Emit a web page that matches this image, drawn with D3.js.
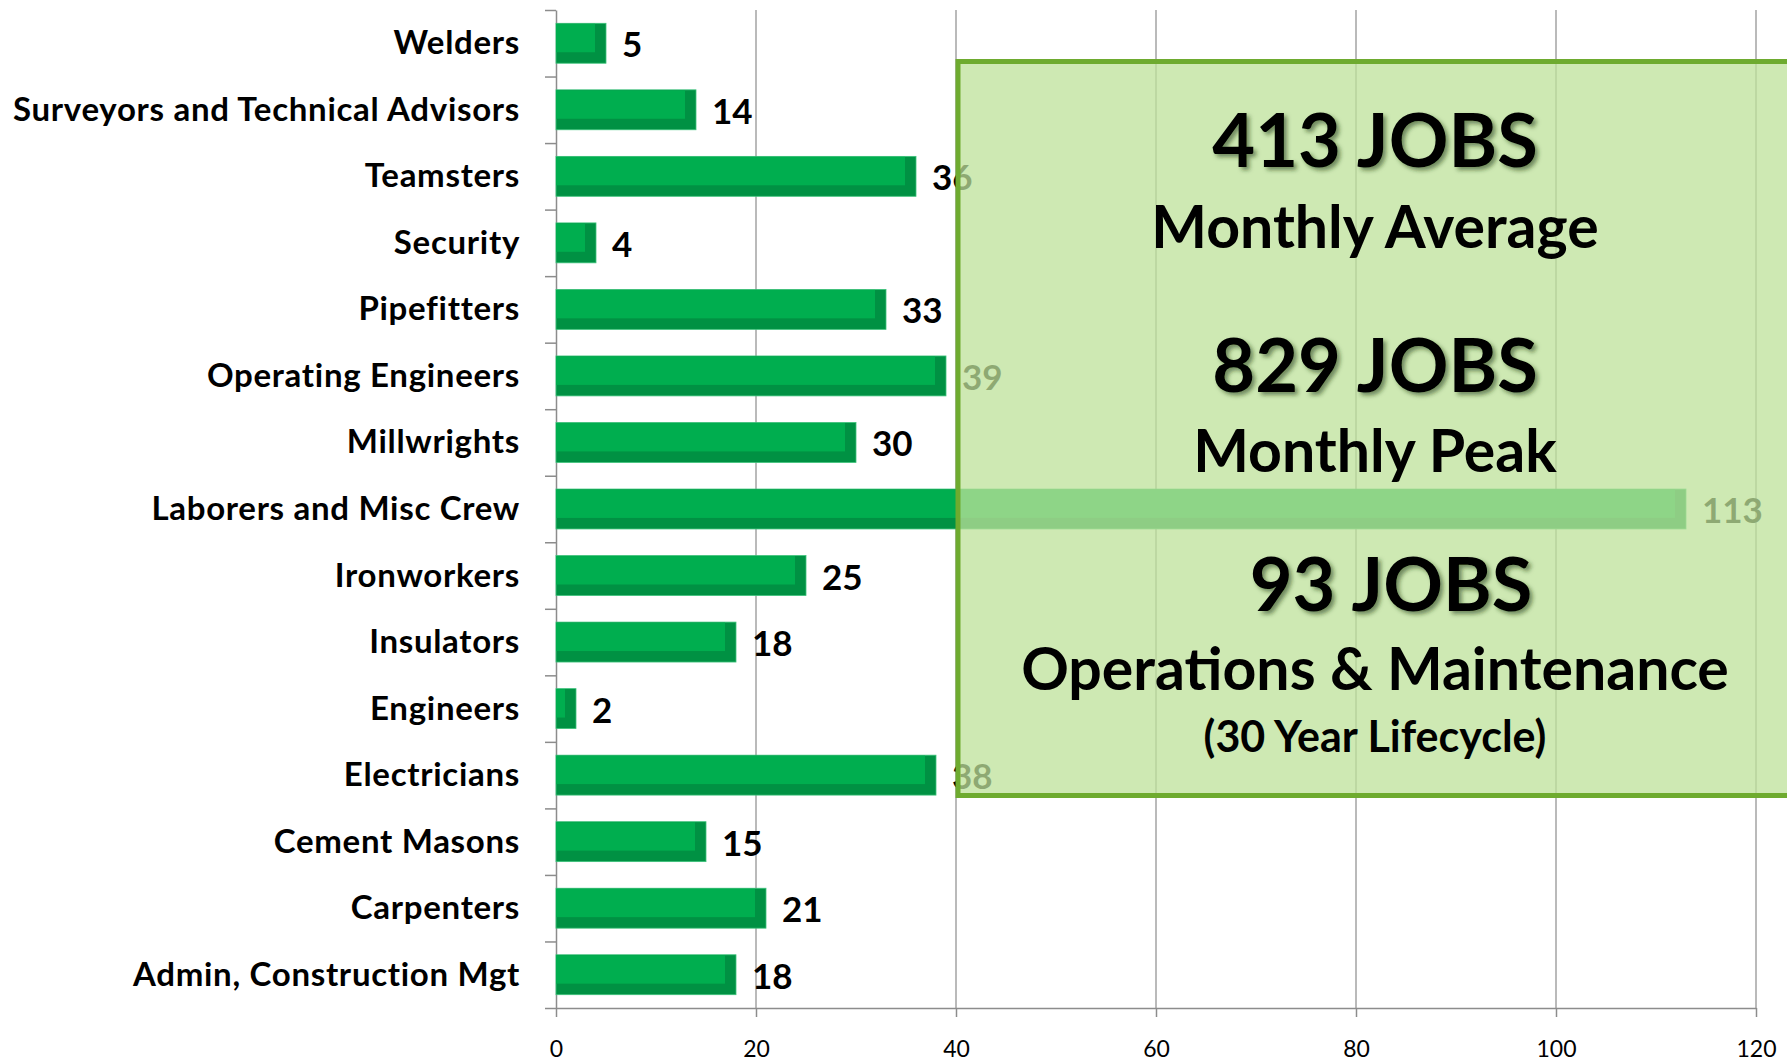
<!DOCTYPE html>
<meta charset="utf-8">
<html>
<head>
    <title>Construction Jobs by Trade</title>
    <style>
        body { margin: 0; background: #fff; }
        svg { display: block; }
        svg text { font-family: Lato, "Open Sans", sans-serif; }
    </style>
    <script src="https://d3js.org/d3.v7.min.js"></script>
</head>
<body>
<div id="chart-container"></div>
<script>
    // trades, top to bottom
    const categories = [
        "Welders", "Surveyors and Technical Advisors", "Teamsters", "Security",
        "Pipefitters", "Operating Engineers", "Millwrights", "Laborers and Misc Crew",
        "Ironworkers", "Insulators", "Engineers", "Electricians", "Cement Masons",
        "Carpenters", "Admin, Construction Mgt"
    ];
    const values = [5, 14, 36, 4, 33, 39, 30, 113, 25, 18, 2, 38, 15, 21, 18];
    const tickValues = [0, 20, 40, 60, 80, 100, 120];

    // call-out box text
    const boxLines = [
        "413 JOBS", "Monthly Average",
        "829 JOBS", "Monthly Peak",
        "93 JOBS", "Operations & Maintenance", "(30 Year Lifecycle)"
    ];

    var width = 1787, height = 1061;
    var plotLeft = 556, plotRight = 1756, plotTop = 10, plotBottom = 1008;

    var svg = d3.select("#chart-container")
        .append("svg")
        .attr("width", width)
        .attr("height", height);

    var defs = svg.append("defs");
    var shadow = defs.append("filter").attr("id", "shadow")
        .attr("x", "-10%").attr("y", "-20%").attr("width", "130%").attr("height", "150%");
    shadow.append("feDropShadow")
        .attr("dx", 3).attr("dy", 3).attr("stdDeviation", 2)
        .attr("flood-color", "#1f3a10").attr("flood-opacity", 0.55);

    var x = d3.scaleLinear()
        .domain([0, 120])
        .range([plotLeft, plotRight]);

    var y = d3.scaleBand()
        .domain(categories)
        .range([plotTop, plotBottom])
        .paddingInner(0.4)
        .paddingOuter(0.2);

    // slot boundaries for the category ticks
    var ySlots = d3.scaleLinear()
        .domain([0, categories.length])
        .range([plotTop, plotBottom]);

    // vertical gridlines
    svg.append("g")
        .selectAll("line")
        .data(tickValues.slice(1))
        .enter().append("line")
        .attr("x1", d => x(d)).attr("x2", d => x(d))
        .attr("y1", plotTop).attr("y2", plotBottom)
        .attr("stroke", "#a3a3a3")
        .attr("stroke-width", 1.5);

    // x axis
    var xAxis = svg.append("g")
        .attr("transform", "translate(0," + plotBottom + ")")
        .call(d3.axisBottom(x).tickValues(tickValues).tickSize(9).tickSizeOuter(0).tickPadding(24));
    xAxis.select(".domain").attr("stroke", "#8c8c8c").attr("stroke-width", 1.5);
    xAxis.selectAll(".tick line").attr("stroke", "#8c8c8c").attr("stroke-width", 1.5);
    xAxis.selectAll(".tick text")
        .attr("fill", "#000")
        .style("font-size", "23px")
        .style("font-family", "Lato, sans-serif");

    // y axis (ticks between categories)
    var yAxis = svg.append("g")
        .attr("transform", "translate(" + plotLeft + ",0)")
        .call(d3.axisLeft(ySlots).tickValues(d3.range(categories.length + 1))
            .tickSize(11).tickSizeOuter(0).tickFormat(""));
    yAxis.select(".domain").attr("stroke", "#8c8c8c").attr("stroke-width", 1.5);
    yAxis.selectAll(".tick line").attr("stroke", "#8c8c8c").attr("stroke-width", 1.5);

    // bars: dark body + lighter face for the 3D look
    var depth = 11;
    var bars = svg.append("g")
        .selectAll("g")
        .data(categories)
        .enter().append("g");

    bars.append("rect")
        .attr("x", x(0))
        .attr("y", d => y(d))
        .attr("width", (d, i) => x(values[i]) - x(0))
        .attr("height", y.bandwidth())
        .attr("fill", "#009143")
        .attr("stroke", "#3cc27a")
        .attr("stroke-width", 0.8);

    bars.append("rect")
        .attr("x", x(0))
        .attr("y", d => y(d) + 0.5)
        .attr("width", (d, i) => Math.max(0, x(values[i]) - x(0) - depth))
        .attr("height", y.bandwidth() - depth - 0.5)
        .attr("fill", "#00ae4f");

    // value labels
    svg.append("g")
        .selectAll("text")
        .data(categories)
        .enter().append("text")
        .attr("x", (d, i) => x(values[i]) + 16)
        .attr("y", d => y(d) + y.bandwidth() / 2 + 14)
        .style("font-size", "35px")
        .style("font-weight", "bold")
        .attr("fill", "#000")
        .text((d, i) => values[i]);

    // category labels
    svg.append("g")
        .selectAll("text")
        .data(categories)
        .enter().append("text")
        .attr("x", plotLeft - 36)
        .attr("y", d => y(d) + y.bandwidth() / 2 + 11)
        .attr("text-anchor", "end")
        .style("font-size", "33px")
        .style("letter-spacing", "0.7px")
        .style("font-weight", "bold")
        .attr("fill", "#000")
        .text(d => d);

    // call-out box over the right part of the chart
    svg.append("rect")
        .attr("x", x(40) + 2)
        .attr("y", 61.5)
        .attr("width", 840)
        .attr("height", 734)
        .attr("fill", "rgba(190,226,153,0.75)")
        .attr("stroke", "#6eab2f")
        .attr("stroke-width", 5);

    var lineBase = [167, 248, 392, 472, 611, 690, 752];
    var lineSize = [74, 59, 74, 59, 74, 59, 43];
    var lineShift = [0, 0, 0, 0, 16, 0, 0];
    svg.append("g")
        .selectAll("text")
        .data(boxLines)
        .enter().append("text")
        .attr("x", (d, i) => 1375 + lineShift[i])
        .attr("y", (d, i) => lineBase[i])
        .attr("text-anchor", "middle")
        .style("font-size", (d, i) => lineSize[i] + "px")
        .style("font-weight", "bold")
        .attr("fill", "#000")
        .attr("filter", d => d.indexOf("JOBS") >= 0 ? "url(#shadow)" : null)
        .text(d => d);
</script>
</body>
</html>
